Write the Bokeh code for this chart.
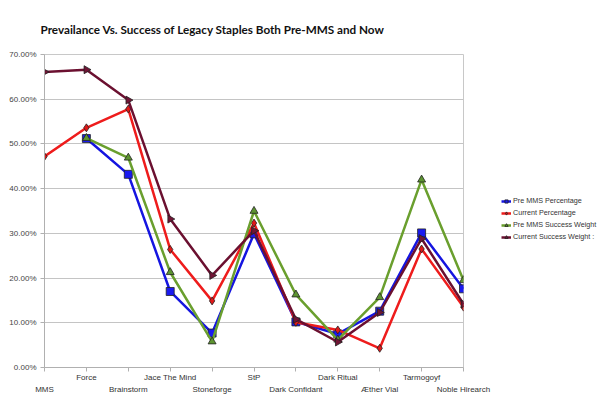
from bokeh.plotting import figure
from bokeh.models import (LinearAxis, FixedTicker, PrintfTickFormatter, Range1d,
                          Legend, LegendItem, ColumnDataSource)
from bokeh.embed import file_html
from bokeh.resources import INLINE

categories = ["MMS", "Force", "Brainstorm", "Jace The Mind", "Stoneforge", "StP",
              "Dark Confidant", "Dark Ritual", "Æther Vial", "Tarmogoyf", "Noble Hirearch"]

pre_mms_pct = [None, 51.2, 43.2, 17.0, 7.7, 29.9, 10.2, 7.5, 12.6, 30.1, 17.6]
current_pct = [47.2, 53.6, 57.8, 26.4, 14.9, 32.3, 10.1, 8.4, 4.3, 26.5, 13.5]
pre_mms_weight = [None, 51.3, 46.9, 21.3, 5.8, 35.0, 16.3, 6.2, 15.7, 42.0, 19.5]
current_weight = [66.1, 66.6, 59.8, 33.2, 20.6, 30.6, 10.8, 5.7, 12.3, 28.8, 14.2]

series_names = ["Pre MMS Percentage", "Current Percentage", "Pre MMS Success Weight",
                "Current Success Weight :"]
y_ticks = [0, 10, 20, 30, 40, 50, 60, 70]

colors = ["#1515e0", "#ee1c1c", "#6a9f2e", "#6b1030"]
fills = ["#1a1af0", "#e01818", "#5d9430", "#701535"]
markers = ["square", "diamond", "triangle", "triangle"]
angles = [0, 0, 0, -1.5708]
sizes = [8, 8, 8, 8]

p = figure(frame_width=419, frame_height=313, output_backend="svg", toolbar_location=None,
           x_range=Range1d(0, 10), y_range=Range1d(0, 70),
           min_border_left=44, min_border_right=0, min_border_top=54, min_border_bottom=0,
           title="Prevailance Vs. Success of Legacy Staples Both Pre-MMS and Now")

p.title.text_font = "Lato"
p.title.text_font_size = "11.7px"
p.title.text_font_style = "bold"
p.title.text_color = "#111111"
p.title.standoff = 38
p.title.offset = -4

p.outline_line_color = "#c8c8c8"
p.xgrid.grid_line_color = None
p.ygrid.grid_line_color = "#c4c4c4"
p.ygrid.ticker = FixedTicker(ticks=y_ticks)

# y axis
yax = p.yaxis[0]
yax.ticker = FixedTicker(ticks=y_ticks)
yax.formatter = PrintfTickFormatter(format="%.2f%%")
yax.axis_line_color = "#b0b0b0"
yax.major_tick_line_color = "#b0b0b0"
yax.major_tick_out = 4
yax.major_tick_in = 0
yax.minor_tick_line_color = None
yax.major_label_text_font = "Liberation Sans"
yax.major_label_text_font_size = "8px"
yax.major_label_text_color = "#444444"
yax.major_label_standoff = 4

# x axes (staggered labels)
xax = p.xaxis[0]
xax.ticker = FixedTicker(ticks=list(range(len(categories))))
xax.major_label_overrides = {i: (c if i % 2 == 1 else "") for i, c in enumerate(categories)}
xax.axis_line_color = "#b0b0b0"
xax.major_tick_line_color = "#b0b0b0"
xax.major_tick_out = 4
xax.major_tick_in = 0
xax.minor_tick_line_color = None
xax.major_label_text_font = "Liberation Sans"
xax.major_label_text_font_size = "8px"
xax.major_label_text_color = "#333333"
xax.major_label_standoff = 1

xax2 = LinearAxis(ticker=FixedTicker(ticks=list(range(len(categories)))),
                  major_label_overrides={i: (c if i % 2 == 0 else "") for i, c in enumerate(categories)})
xax2.axis_line_color = None
xax2.major_tick_line_color = None
xax2.major_tick_out = 0
xax2.major_tick_in = 0
xax2.minor_tick_line_color = None
xax2.minor_tick_out = 0
xax2.major_label_text_font = "Liberation Sans"
xax2.major_label_text_font_size = "8px"
xax2.major_label_text_color = "#333333"
xax2.major_label_standoff = 0
p.add_layout(xax2, "below")

all_series = [pre_mms_pct, current_pct, pre_mms_weight, current_weight]
items = []
for name, vals, c, f, m, a, s in zip(series_names, all_series, colors, fills, markers, angles, sizes):
    xs = [i for i, v in enumerate(vals) if v is not None]
    ys = [v for v in vals if v is not None]
    src = ColumnDataSource(dict(x=xs, y=ys))
    r1 = p.line("x", "y", source=src, line_color=c, line_width=2.5)
    r2 = p.scatter("x", "y", source=src, marker=m, size=s, angle=a, fill_color=f,
                   line_color="#222222", line_width=0.8)
    items.append(LegendItem(label=name, renderers=[r1, r2]))

legend = Legend(items=items, location=(38, 126), border_line_color=None,
                background_fill_alpha=0,
                label_text_font="Liberation Sans", label_text_font_size="7.2px",
                label_text_color="#333333", glyph_width=10, glyph_height=8,
                label_height=8, spacing=3, padding=0, margin=0, label_standoff=2)
p.add_layout(legend, "right")

open("out.html", "w").write(file_html(p, INLINE))
